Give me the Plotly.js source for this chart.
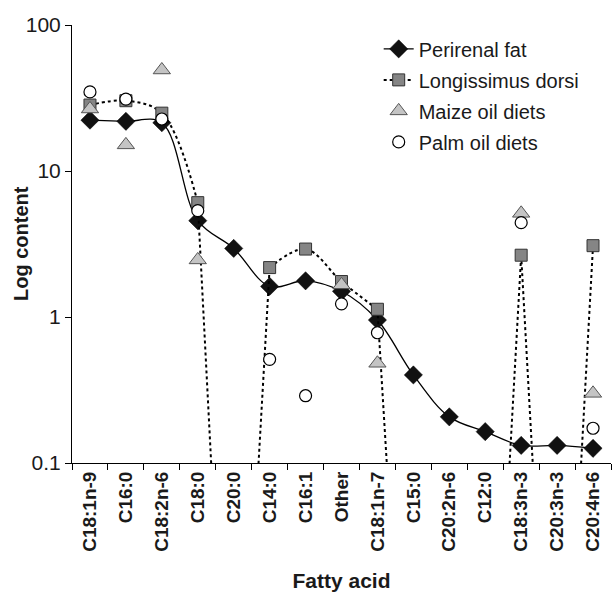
<!DOCTYPE html>
<html>
<head>
<meta charset="utf-8">
<script src="https://cdn.plot.ly/plotly-3.0.1.min.js"></script>
<style>html,body{margin:0;padding:0;background:#fff;}#chart{width:613px;height:592px;}</style>
</head>
<body>
<div id="chart"></div>
<script>
var categories = ['C18:1n-9','C16:0','C18:2n-6','C18:0','C20:0','C14:0','C16:1','Other','C18:1n-7','C15:0','C20:2n-6','C12:0','C18:3n-3','C20:3n-3','C20:4n-6'];
var perirenalFat = [22.3, 21.9, 21.4, 4.57, 2.95, 1.62, 1.77, 1.50, 0.953, 0.401, 0.207, 0.164, 0.132, 0.132, 0.126];
var longissimusDorsi = [28.3, 30.3, 24.9, 6.07, 0, 2.18, 2.92, 1.75, 1.13, 0, 0, 0, 2.65, 0, 3.08];
var maizeOilDiets = [26.6, 15.1, 49.2, 2.46, null, null, null, 1.66, 0.482, null, null, null, 5.13, null, 0.300];
var palmOilDiets = [34.8, 31.1, 22.7, 5.35, null, 0.513, 0.289, 1.23, 0.78, null, null, null, 4.43, null, 0.173];
var yTickVals = [0.1, 1, 10, 100];
var yTickText = ['0.1', '1', '10', '100'];

// zero contents cannot sit on a log axis: the line drops to a tiny floor, off the chart
var ZERO_FLOOR = 1e-4;
var longissimusNonZero = longissimusDorsi.map(function (v) { return v === 0 ? null : v; });
var dropX = [], dropY = [];
for (var i = 0; i < longissimusDorsi.length - 1; i++) {
  var a = longissimusDorsi[i], b = longissimusDorsi[i + 1];
  if ((a === 0) !== (b === 0)) {
    dropX.push(categories[i], categories[i + 1], null);
    dropY.push(a === 0 ? ZERO_FLOOR : a, b === 0 ? ZERO_FLOOR : b, null);
  }
}

var FONT = 'Liberation Sans, Arial, Helvetica, sans-serif';
var dotted = {color: '#000', width: 2, dash: 'dot'};

var traces = [
  {
    name: 'Perirenal fat', legendgroup: 'g1', x: categories, y: perirenalFat, type: 'scatter', mode: 'lines+markers',
    line: {color: '#000', width: 1.3, shape: 'spline', smoothing: 1},
    marker: {symbol: 'diamond', size: 14, color: '#111', line: {color: '#000', width: 0.5}}
  },
  {
    name: 'Longissimus dorsi drops', legendgroup: 'g2', x: dropX, y: dropY, type: 'scatter', mode: 'lines',
    line: dotted, showlegend: false, connectgaps: false
  },
  {
    name: 'Longissimus dorsi', legendgroup: 'g2', x: categories, y: longissimusNonZero, type: 'scatter', mode: 'lines+markers',
    line: {color: '#000', width: 2, dash: 'dot', shape: 'spline', smoothing: 1}, connectgaps: false,
    marker: {symbol: 'square', size: 12, color: '#858585', line: {color: '#333', width: 1}}
  },
  {
    name: 'Maize oil diets', legendgroup: 'g3', x: categories, y: maizeOilDiets, type: 'scatter', mode: 'markers',
    marker: {symbol: 'triangle-up', size: 15, color: '#c4c4c4', line: {color: '#555', width: 1}}
  },
  {
    name: 'Palm oil diets', legendgroup: 'g4', x: categories, y: palmOilDiets, type: 'scatter', mode: 'markers',
    marker: {symbol: 'circle', size: 12, color: '#fff', line: {color: '#000', width: 1.2}}
  }
];

var layout = {
  width: 613, height: 592,
  margin: {l: 72, r: 2, t: 25, b: 129},
  paper_bgcolor: '#fff', plot_bgcolor: '#fff',
  font: {family: FONT, color: '#1a1a1a'},
  showlegend: true,
  legend: {
    x: 0.569, y: 0.99, xanchor: 'left', yanchor: 'top',
    font: {family: FONT, size: 20, color: '#1a1a1a'},
    bgcolor: 'rgba(0,0,0,0)', borderwidth: 0, tracegroupgap: 2
  },
  xaxis: {
    type: 'category', range: [-0.5, 14.5],
    showline: true, linecolor: '#000', linewidth: 1,
    ticks: 'outside', tickson: 'boundaries', ticklen: 6, tickcolor: '#000',
    tickangle: -90, showgrid: false, zeroline: false,
    tickfont: {family: FONT, size: 19, weight: 'bold', color: '#1a1a1a'},
    title: {text: 'Fatty acid', font: {family: FONT, size: 21, weight: 'bold', color: '#1a1a1a'}, standoff: 24}
  },
  yaxis: {
    type: 'log', range: [-1, 2],
    tickvals: yTickVals, ticktext: yTickText,
    showline: true, linecolor: '#000', linewidth: 1,
    ticks: 'outside', ticklen: 6, tickcolor: '#000',
    showgrid: false, zeroline: false,
    tickfont: {family: FONT, size: 21, color: '#1a1a1a'}
  },
  annotations: [{
    text: 'Log content', textangle: -90, showarrow: false,
    xref: 'paper', yref: 'paper', x: (21 - 72) / 539, y: 0.5, xanchor: 'center', yanchor: 'middle',
    font: {family: FONT, size: 20, weight: 'bold', color: '#1a1a1a'}
  }]
};

Plotly.newPlot('chart', traces, layout, {displayModeBar: false, staticPlot: true});
</script>
</body>
</html>
